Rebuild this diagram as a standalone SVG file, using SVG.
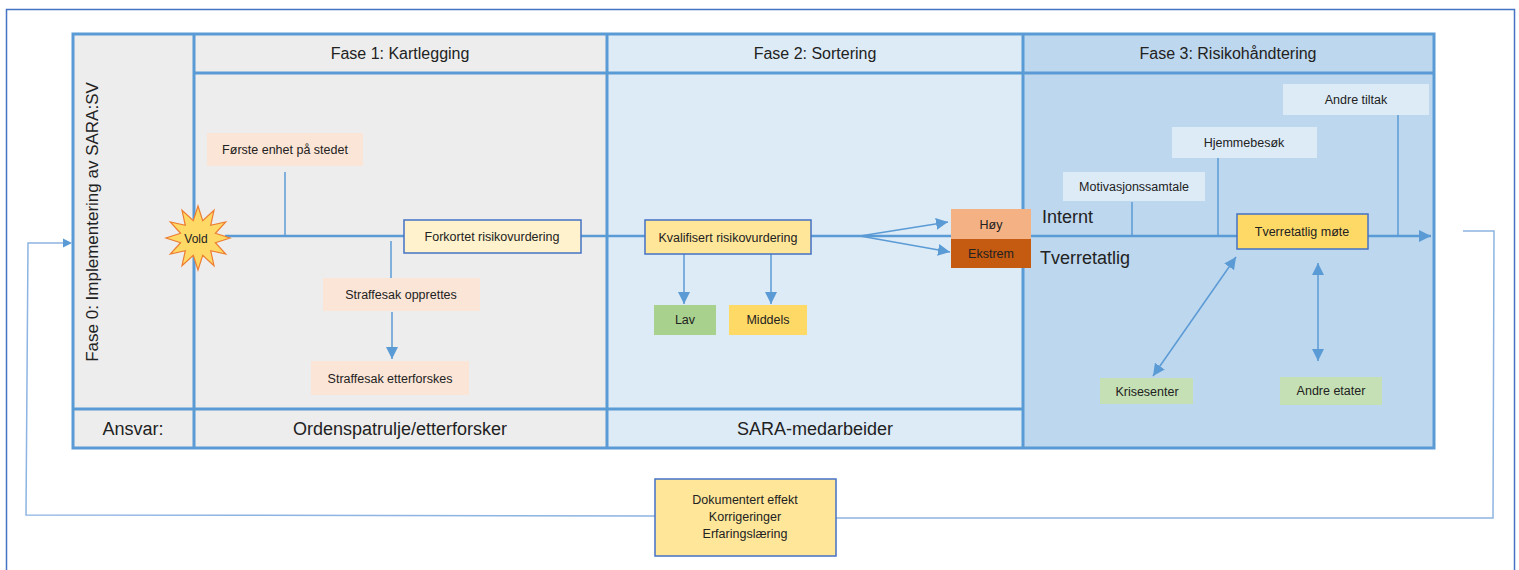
<svg xmlns="http://www.w3.org/2000/svg" width="1519" height="570" viewBox="0 0 1519 570">
<defs>
<style>
text{font-family:"Liberation Sans",Arial,sans-serif;fill:#222;}
.hd{font-size:16px;text-anchor:middle;}
.ans{font-size:18px;text-anchor:middle;}
.sm{font-size:12.5px;text-anchor:middle;}
.lg{font-size:18px;}
.grid{stroke:#5B9BD5;stroke-width:3;fill:none;}
.thin{stroke:#5B9BD5;stroke-width:1.5;fill:none;}
.flow{stroke:#5B9BD5;stroke-width:2.5;fill:none;}
.loop{stroke:#8DB4E2;stroke-width:1.5;fill:none;}
.bx{stroke:#4472C4;stroke-width:1.5;}
</style>
<marker id="ah" viewBox="0 0 10 10" refX="10" refY="5" markerWidth="5" markerHeight="5" orient="auto-start-reverse" markerUnits="strokeWidth">
<path d="M0,0 L10,5 L0,10 z" fill="#5B9BD5"/>
</marker>
<marker id="ahs" viewBox="0 0 10 10" refX="10" refY="5" markerWidth="8" markerHeight="8" orient="auto-start-reverse" markerUnits="strokeWidth">
<path d="M0,0 L10,5 L0,10 z" fill="#5B9BD5"/>
</marker>
</defs>
<rect width="1519" height="570" fill="#ffffff"/>
<rect x="6.5" y="9.5" width="1508" height="600" fill="none" stroke="#4472C4" stroke-width="1.5"/>

<g id="table">
<rect x="73" y="34" width="121" height="414" fill="#EDEDED"/>
<rect x="194" y="34" width="413" height="414" fill="#EDEDED"/>
<rect x="607" y="34" width="416" height="414" fill="#DDEBF7"/>
<rect x="1023" y="34" width="411" height="414" fill="#BDD7EE"/>
<rect class="grid" x="73" y="34" width="1361" height="414"/>
<line class="grid" x1="194" y1="34" x2="194" y2="448"/>
<line class="grid" x1="607" y1="34" x2="607" y2="448"/>
<line class="grid" x1="1023" y1="34" x2="1023" y2="448"/>
<line class="grid" x1="194" y1="73" x2="1434" y2="73"/>
<line class="grid" x1="73" y1="409" x2="1023" y2="409"/>
<text class="hd" x="400" y="59">Fase 1: Kartlegging</text>
<text class="hd" x="815" y="59">Fase 2: Sortering</text>
<text class="hd" x="1228" y="59">Fase 3: Risikohåndtering</text>
<text class="hd" style="font-size:17px" transform="translate(98,222) rotate(-90)">Fase 0: Implementering av SARA:SV</text>
<text class="ans" x="133" y="435">Ansvar:</text>
<text class="ans" x="400" y="435">Ordenspatrulje/etterforsker</text>
<text class="ans" x="815" y="435">SARA-medarbeider</text>
</g>

<g id="connectors">
<line class="flow" x1="225" y1="236" x2="1431" y2="236" marker-end="url(#ah)"/>
<line class="thin" x1="285" y1="172" x2="285" y2="236"/>
<line class="thin" x1="391" y1="241" x2="391" y2="278"/>
<line class="thin" x1="392" y1="312" x2="392" y2="359" marker-end="url(#ahs)"/>
<line class="thin" x1="684" y1="254" x2="684" y2="304" marker-end="url(#ahs)"/>
<line class="thin" x1="771" y1="254" x2="771" y2="304" marker-end="url(#ahs)"/>
<line class="thin" x1="860" y1="236" x2="948" y2="222" marker-end="url(#ahs)"/>
<line class="thin" x1="860" y1="236" x2="950" y2="252" marker-end="url(#ahs)"/>
<line class="thin" x1="1132" y1="202" x2="1132" y2="236"/>
<line class="thin" x1="1218" y1="158" x2="1218" y2="236"/>
<line class="thin" x1="1398" y1="115" x2="1398" y2="236"/>
<line class="thin" x1="1153" y1="376" x2="1236" y2="257" marker-start="url(#ahs)" marker-end="url(#ahs)"/>
<line class="thin" x1="1318" y1="263" x2="1318" y2="361" marker-start="url(#ahs)" marker-end="url(#ahs)"/>
<polyline class="loop" points="1463,231 1494,231 1493,518 836,518"/>
<polyline class="loop" points="655,516 26,515 28,243 65,243"/>
<path d="M72,243 L63,238.5 L63,247.5 z" fill="#5B9BD5"/>
</g>

<g id="vold">
<polygon points="198,206 202.7,220.6 214,210.3 210.7,225.3 225.7,222 215.4,233.3 230,238 215.4,242.7 225.7,254 210.7,250.7 214,265.7 202.7,255.4 198,270 193.3,255.4 182,265.7 185.3,250.7 170.3,254 180.6,242.7 166,238 180.6,233.3 170.3,222 185.3,225.3 182,210.3 193.3,220.6" fill="#FFD966" stroke="#ED7D31" stroke-width="1.2"/>
<text class="sm" style="font-size:12px" x="196" y="243">Vold</text>
</g>

<g id="forste-enhet">
<rect x="207" y="133" width="156" height="33" fill="#FBE5D6"/>
<text class="sm" x="285" y="154">Første enhet på stedet</text>
</g>
<g id="forkortet">
<rect class="bx" x="404" y="220" width="177" height="33" fill="#FFF2CC"/>
<text class="sm" x="492" y="241">Forkortet risikovurdering</text>
</g>
<g id="straffesak-opprettes">
<rect x="323" y="278" width="157" height="33" fill="#FBE5D6"/>
<text class="sm" x="401" y="299">Straffesak opprettes</text>
</g>
<g id="straffesak-etterforskes">
<rect x="311" y="361" width="158" height="34" fill="#FBE5D6"/>
<text class="sm" x="390" y="383">Straffesak etterforskes</text>
</g>
<g id="kvalifisert">
<rect class="bx" x="645" y="220" width="166" height="34" fill="#FFE699"/>
<text class="sm" x="728" y="242">Kvalifisert risikovurdering</text>
</g>
<g id="lav">
<rect x="654" y="305" width="62" height="30" fill="#A9D18E"/>
<text class="sm" x="685" y="324">Lav</text>
</g>
<g id="middels">
<rect x="729" y="305" width="78" height="30" fill="#FFD966"/>
<text class="sm" x="768" y="324">Middels</text>
</g>
<g id="hoy">
<rect x="951" y="209" width="80" height="30" fill="#F4B183"/>
<text class="sm" x="991" y="229">Høy</text>
</g>
<g id="ekstrem">
<rect x="951" y="239" width="80" height="29" fill="#C55A11"/>
<text class="sm" x="991" y="258">Ekstrem</text>
</g>
<g id="labels">
<text class="lg" x="1042" y="223">Internt</text>
<text class="lg" x="1040" y="264">Tverretatlig</text>
</g>
<g id="motivasjonssamtale">
<rect x="1063" y="172" width="142" height="29" fill="#DDEBF7"/>
<text class="sm" x="1134" y="191">Motivasjonssamtale</text>
</g>
<g id="hjemmebesok">
<rect x="1172" y="127" width="145" height="31" fill="#DDEBF7"/>
<text class="sm" x="1244" y="147">Hjemmebesøk</text>
</g>
<g id="andre-tiltak">
<rect x="1283" y="84" width="146" height="31" fill="#DDEBF7"/>
<text class="sm" x="1356" y="104">Andre tiltak</text>
</g>
<g id="tverretatlig-mote">
<rect class="bx" x="1237" y="214" width="131" height="35" fill="#FFD966"/>
<text class="sm" x="1302" y="236">Tverretatlig møte</text>
</g>
<g id="krisesenter">
<rect x="1100" y="378" width="93" height="26" fill="#C5E0B4"/>
<text class="sm" x="1147" y="396">Krisesenter</text>
</g>
<g id="andre-etater">
<rect x="1280" y="377" width="102" height="28" fill="#C5E0B4"/>
<text class="sm" x="1331" y="395">Andre etater</text>
</g>
<g id="dokumentert">
<rect class="bx" x="655" y="479" width="181" height="77" fill="#FFE699"/>
<text class="sm" x="745" y="504">Dokumentert effekt</text>
<text class="sm" x="745" y="521">Korrigeringer</text>
<text class="sm" x="745" y="538">Erfaringslæring</text>
</g>
</svg>
